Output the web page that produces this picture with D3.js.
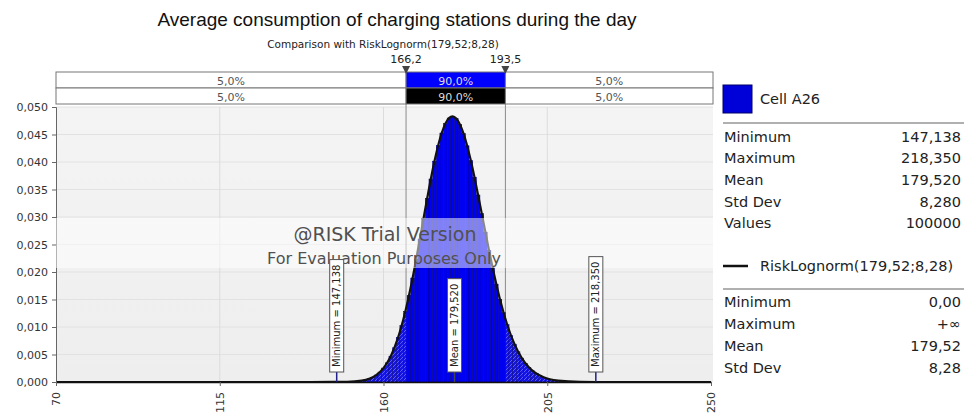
<html>
<head>
<meta charset="UTF-8">
<title>index.html</title>
<script src="https://d3js.org/d3.v7.min.js"></script>
<style>
body { margin: 0; background: #ffffff; }
text { font-family: "DejaVu Sans", sans-serif; }
</style>
</head>
<body>
<svg width="969" height="413"></svg>
<script>
// histogram bins (width 1, centred on binCenters), density values
var binCenters = d3.range(150, 211);
var binDensity = [
  0.00003, 0.00005, 0.00009, 0.00015, 0.00024, 0.00038, 0.00057, 0.00086, 0.00126, 0.00180,
  0.00253, 0.00349, 0.00470, 0.00622, 0.00806, 0.01026, 0.01281, 0.01570, 0.01891, 0.02237,
  0.02600, 0.02972, 0.03340, 0.03691, 0.04015, 0.04297, 0.04527, 0.04697, 0.04799, 0.04831,
  0.04792, 0.04686, 0.04517, 0.04294, 0.04026, 0.03724, 0.03400, 0.03063, 0.02725, 0.02393,
  0.02076, 0.01779, 0.01505, 0.01260, 0.01041, 0.00851, 0.00688, 0.00550, 0.00435, 0.00340,
  0.00263, 0.00202, 0.00153, 0.00115, 0.00085, 0.00063, 0.00046, 0.00033, 0.00024, 0.00017,
  0.00012
];

// fitted RiskLognorm curve
var fitX = [70, 140, 146, 150, 154, 158, 160, 162, 164, 166, 168, 170, 172, 174, 176, 178, 179, 180,
            182, 184, 186, 188, 190, 192, 194, 196, 198, 200, 204, 208, 214, 222, 250];
var fitY = [0, 0, 0.000005, 0.00003, 0.00024, 0.00126, 0.00253, 0.00470, 0.00806, 0.01281, 0.01891,
            0.02600, 0.03340, 0.04015, 0.04527, 0.04799, 0.04831, 0.04792, 0.04517, 0.04026, 0.03400,
            0.02725, 0.02076, 0.01505, 0.01041, 0.00688, 0.00435, 0.00263, 0.00085, 0.00024, 0.00002, 0, 0];

var xTicks = [70, 115, 160, 205, 250];
var yTicks = [0, 0.005, 0.010, 0.015, 0.020, 0.025, 0.030, 0.035, 0.040, 0.045, 0.050];

var deltaLeft = 166.2, deltaRight = 193.5;
var bandRow1 = ["5,0%", "90,0%", "5,0%"];
var bandRow2 = ["5,0%", "90,0%", "5,0%"];

var markerNames = ["Minimum", "Mean", "Maximum"];
var markerValues = [147.138, 179.520, 218.350];

var stats1Labels = ["Minimum", "Maximum", "Mean", "Std Dev", "Values"];
var stats1Values = ["147,138", "218,350", "179,520", "8,280", "100000"];
var stats2Labels = ["Minimum", "Maximum", "Mean", "Std Dev"];
var stats2Values = ["0,00", "+\u221e", "179,52", "8,28"];

var svg = d3.select("svg");
var comma = function(v, n) { return v.toFixed(n).replace(".", ","); };

var plot = {left: 56, right: 713, top: 107, bottom: 382};
var x = d3.scaleLinear().domain([70, 250]).range([56, 711]);
var y = d3.scaleLinear().domain([0, 0.05]).range([382, 107]);

var defs = svg.append("defs");
var pat = defs.append("pattern").attr("id", "hatch").attr("patternUnits", "userSpaceOnUse")
  .attr("width", 4).attr("height", 4);
pat.append("rect").attr("width", 4).attr("height", 4).attr("fill", "#1515e8");
pat.append("path").attr("d", "M-1,1 l2,-2 M0,4 l4,-4 M3,5 l2,-2").attr("stroke", "#6f6fff").attr("stroke-width", 0.8);

defs.append("clipPath").attr("id", "inner").append("rect")
  .attr("x", x(deltaLeft)).attr("y", 0).attr("width", x(deltaRight) - x(deltaLeft)).attr("height", 413);
var outer = defs.append("clipPath").attr("id", "outer");
outer.append("rect").attr("x", 0).attr("y", 0).attr("width", x(deltaLeft)).attr("height", 413);
outer.append("rect").attr("x", x(deltaRight)).attr("y", 0).attr("width", 969 - x(deltaRight)).attr("height", 413);

var grad = defs.append("linearGradient").attr("id", "bg").attr("x1", 0).attr("y1", 0).attr("x2", 0).attr("y2", 1);
grad.append("stop").attr("offset", "0%").attr("stop-color", "#f4f4f4");
grad.append("stop").attr("offset", "100%").attr("stop-color", "#eeeeee");

// title
svg.append("text").attr("x", 397).attr("y", 26).attr("text-anchor", "middle")
  .style("font-family", '"Liberation Sans", Arial, sans-serif').style("font-size", "19px").style("fill", "#111")
  .text("Average consumption of charging stations during the day");
svg.append("text").attr("x", 383).attr("y", 48).attr("text-anchor", "middle")
  .style("font-size", "10.5px").style("fill", "#222")
  .text("Comparison with RiskLognorm(179,52;8,28)");

// plot background + grid
svg.append("rect").attr("x", plot.left).attr("y", plot.top).attr("width", plot.right - plot.left)
  .attr("height", plot.bottom - plot.top).attr("fill", "url(#bg)");
svg.append("g").selectAll("line").data(yTicks.slice(1)).enter().append("line")
  .attr("x1", plot.left).attr("x2", plot.right).attr("y1", d => y(d)).attr("y2", d => y(d))
  .attr("stroke", "#e2e2e2").attr("stroke-width", 1);
svg.append("g").selectAll("line").data(xTicks.slice(1, 4)).enter().append("line")
  .attr("x1", d => x(d)).attr("x2", d => x(d)).attr("y1", plot.top).attr("y2", plot.bottom)
  .attr("stroke", "#dcdcdc").attr("stroke-width", 1);

// delta lines
svg.append("g").selectAll("line").data([deltaLeft, deltaRight]).enter().append("line")
  .attr("x1", d => x(d)).attr("x2", d => x(d)).attr("y1", 104).attr("y2", plot.bottom)
  .attr("stroke", "#8a8a8a").attr("stroke-width", 1);

// histogram
function bars(g, fill) {
  g.selectAll("rect").data(binCenters).enter().append("rect")
    .attr("x", d => x(d - 0.5)).attr("width", d => x(d + 0.5) - x(d - 0.5))
    .attr("y", (d, i) => y(binDensity[i])).attr("height", (d, i) => y(0) - y(binDensity[i]))
    .attr("fill", fill).attr("stroke", "#00007a").attr("stroke-width", 0.5);
}
bars(svg.append("g").attr("clip-path", "url(#outer)"), "url(#hatch)");
bars(svg.append("g").attr("clip-path", "url(#inner)"), "#0000f2");

// fitted curve
var line = d3.line().x((d, i) => x(fitX[i])).y(d => y(d)).curve(d3.curveMonotoneX);
svg.append("path").attr("d", line(fitY)).attr("fill", "none").attr("stroke", "#111").attr("stroke-width", 2.2);

// axes
var yAxis = d3.axisLeft(y).tickValues(yTicks).tickSize(4).tickPadding(4).tickFormat(d => comma(d, 3));
var gy = svg.append("g").attr("transform", "translate(" + plot.left + ",0)").call(yAxis);
gy.select(".domain").attr("stroke", "#666");
gy.selectAll(".tick line").attr("stroke", "#666");
gy.selectAll("text").style("font-size", "11px").style("fill", "#333").style("font-family", '"DejaVu Sans", sans-serif');

var xAxis = d3.axisBottom(x).tickValues(xTicks).tickSize(4).tickSizeOuter(0).tickFormat(d3.format("d"));
var gx = svg.append("g").attr("transform", "translate(0," + plot.bottom + ")").call(xAxis);
gx.select(".domain").attr("stroke", "#111").attr("stroke-width", 1.5);
gx.selectAll(".tick line").attr("stroke", "#666");
gx.selectAll("text").attr("transform", "rotate(-90)").attr("x", -10).attr("y", 0).attr("dy", "0.35em")
  .attr("text-anchor", "end").style("font-size", "11px").style("fill", "#333").style("font-family", '"DejaVu Sans", sans-serif');

// watermark
svg.append("rect").attr("x", plot.left).attr("y", 218).attr("width", plot.right - plot.left).attr("height", 50)
  .attr("fill", "#ffffff").attr("opacity", 0.5);
svg.append("text").attr("x", 385).attr("y", 241).attr("text-anchor", "middle")
  .style("font-size", "19px").style("fill", "#505050").text("@RISK Trial Version");
svg.append("text").attr("x", 384).attr("y", 264).attr("text-anchor", "middle")
  .style("font-size", "16px").style("fill", "#505050").text("For Evaluation Purposes Only");

// marker labels (min, mean, max)
markerValues.forEach(function(v, i) {
  var cx = x(v);
  var g = svg.append("g");
  g.append("line").attr("x1", cx).attr("x2", cx).attr("y1", 372).attr("y2", plot.bottom)
    .attr("stroke", i == 1 ? "#444" : "#20208a").attr("stroke-width", 1.5);
  var box = g.append("rect").attr("x", cx - 7).attr("width", 14).attr("fill", "#fff")
    .attr("stroke", "#555").attr("stroke-width", 1);
  var t = g.append("text").attr("transform", "translate(" + cx + ",367) rotate(-90)")
    .attr("dy", "0.35em").style("font-size", "10px").style("fill", "#222")
    .text(markerNames[i] + " = " + comma(v, 3));
  var len = t.node().getComputedTextLength();
  box.attr("y", 372 - len - 10).attr("height", len + 10);
});

// delta bands
var edges = [plot.left, x(deltaLeft), x(deltaRight), plot.right];
[[bandRow1, 72, "#0000ff"], [bandRow2, 88, "#000000"]].forEach(function(row) {
  var g = svg.append("g");
  for (var i = 0; i < 3; i++) {
    g.append("rect").attr("x", edges[i]).attr("y", row[1]).attr("width", edges[i + 1] - edges[i]).attr("height", 16)
      .attr("fill", i == 1 ? row[2] : "#fff").attr("stroke", "#777").attr("stroke-width", 1);
    g.append("text").attr("x", (edges[i] + edges[i + 1]) / 2).attr("y", row[1] + 12.5).attr("text-anchor", "middle")
      .style("font-size", "11px").style("fill", i == 1 ? "#dddddd" : "#555").text(row[0][i]);
  }
});
[deltaLeft, deltaRight].forEach(function(v) {
  svg.append("path").attr("d", "M" + (x(v) - 4) + ",66 L" + (x(v) + 4) + ",66 L" + x(v) + ",74 Z").attr("fill", "#444");
  svg.append("text").attr("x", x(v)).attr("y", 63).attr("text-anchor", "middle")
    .style("font-size", "11px").style("fill", "#222").text(comma(v, 1));
});

// legend
var lg = svg.append("g");
lg.append("rect").attr("x", 723).attr("y", 85).attr("width", 29).attr("height", 28)
  .attr("fill", "#0000d8").attr("stroke", "#00006a").attr("stroke-width", 1);
lg.append("text").attr("x", 760).attr("y", 104).style("font-size", "14.5px").style("fill", "#222").text("Cell A26");
lg.append("line").attr("x1", 723).attr("x2", 964).attr("y1", 123).attr("y2", 123).attr("stroke", "#b0b0b0").attr("stroke-width", 2);
stats1Labels.forEach(function(l, i) {
  lg.append("text").attr("x", 724).attr("y", 141.5 + i * 21.7).style("font-size", "14.5px").style("fill", "#222").text(l);
  lg.append("text").attr("x", 961).attr("y", 141.5 + i * 21.7).attr("text-anchor", "end").style("font-size", "14.5px").style("fill", "#222").text(stats1Values[i]);
});
lg.append("line").attr("x1", 723).attr("x2", 748).attr("y1", 266).attr("y2", 266).attr("stroke", "#111").attr("stroke-width", 2.5);
lg.append("text").attr("x", 760).attr("y", 271).style("font-size", "14.5px").style("fill", "#222").text("RiskLognorm(179,52;8,28)");
lg.append("line").attr("x1", 723).attr("x2", 964).attr("y1", 289).attr("y2", 289).attr("stroke", "#b0b0b0").attr("stroke-width", 2);
stats2Labels.forEach(function(l, i) {
  lg.append("text").attr("x", 724).attr("y", 307 + i * 22).style("font-size", "14.5px").style("fill", "#222").text(l);
  lg.append("text").attr("x", 961).attr("y", 307 + i * 22).attr("text-anchor", "end").style("font-size", "14.5px").style("fill", "#222").text(stats2Values[i]);
});
</script>
</body>
</html>
